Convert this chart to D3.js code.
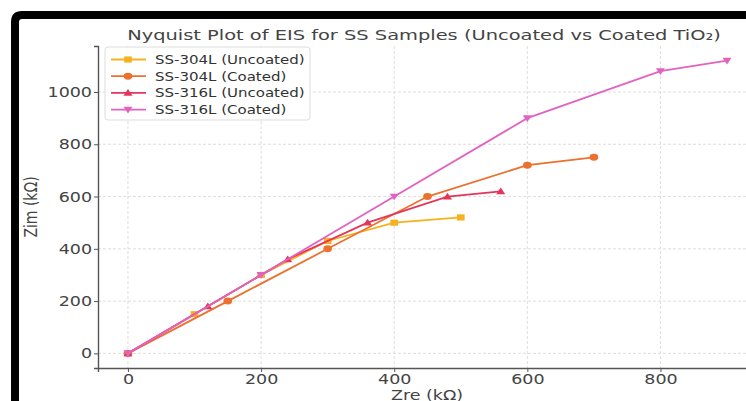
<!DOCTYPE html>
<html>
<head>
<meta charset="utf-8">
<script src="https://cdn.jsdelivr.net/npm/d3@7"></script>
<style>
body { margin: 0; background: #fff; }
svg { display: block; font-family: "DejaVu Sans", sans-serif; }
</style>
</head>
<body>
<script>
// data (kOhm)
var names = ["SS-304L (Uncoated)", "SS-304L (Coated)", "SS-316L (Uncoated)", "SS-316L (Coated)"];
var colors = ["#f7b11e", "#ec712e", "#e4355a", "#e262c2"];
var symbols = [d3.symbolSquare, d3.symbolCircle, "up", "down"];
var zre304u = [0, 100, 200, 300, 400, 500];
var zim304u = [0, 150, 300, 430, 500, 520];
var zre304c = [0, 150, 300, 450, 600, 700];
var zim304c = [0, 200, 400, 600, 720, 750];
var zre316u = [0, 120, 240, 360, 480, 560];
var zim316u = [0, 180, 360, 500, 600, 620];
var zre316c = [0, 200, 400, 600, 800, 900];
var zim316c = [0, 300, 600, 900, 1080, 1120];
var xTicks = [0, 200, 400, 600, 800];
var yTicks = [0, 200, 400, 600, 800, 1000];

var series = [[zre304u, zim304u], [zre304c, zim304c], [zre316u, zim316u], [zre316c, zim316c]].map(function (s, i) {
	return { name: names[i], color: colors[i], sym: symbols[i], pts: s[0].map(function (v, j) { return [v, s[1][j]]; }) };
});

var W = 746, H = 401;
var pL = 98, pR = 757, pT = 46, pB = 368;
var sx = 1.25; // the picture is stretched sideways

var svg = d3.select("body").append("svg")
	.attr("width", W)
	.attr("height", H);

var x = d3.scaleLinear().domain([-45, 945]).range([pL, pR]);
var y = d3.scaleLinear().domain([-56, 1176]).range([pB, pT]);

// grid
var grid = svg.append("g");
grid.selectAll(".gx").data(xTicks).enter().append("line")
	.attr("x1", function (d) { return x(d); }).attr("x2", function (d) { return x(d); })
	.attr("y1", pT).attr("y2", pB)
	.attr("stroke", "#d6d6d6").attr("stroke-width", 0.8).attr("stroke-dasharray", "3,2");
grid.selectAll(".gy").data(yTicks).enter().append("line")
	.attr("y1", function (d) { return y(d); }).attr("y2", function (d) { return y(d); })
	.attr("x1", pL).attr("x2", pR)
	.attr("stroke", "#d6d6d6").attr("stroke-width", 0.8).attr("stroke-dasharray", "3,2");

// axes
var xAxis = svg.append("g")
	.attr("transform", "translate(0," + pB + ")")
	.call(d3.axisBottom(x).tickValues(xTicks).tickFormat(d3.format("d")).tickSize(4).tickPadding(2));
var yAxis = svg.append("g")
	.attr("transform", "translate(" + pL + ",0)")
	.call(d3.axisLeft(y).tickValues(yTicks).tickFormat(d3.format("d")).tickSize(4).tickPadding(2));
[xAxis, yAxis].forEach(function (a) {
	a.select(".domain").attr("stroke", "#555").attr("stroke-width", 1.4);
	a.selectAll(".tick line").attr("stroke", "#555").attr("stroke-width", 1);
	a.selectAll(".tick text").attr("fill", "#444").style("font-size", "14px").style("font-family", "DejaVu Sans");
});
xAxis.selectAll(".tick text").attr("transform", "scale(" + sx + ",1)").attr("x", 0);
yAxis.selectAll(".tick text").attr("transform", "scale(" + sx + ",1)").attr("x", -6 / sx);

function symPath(s, size) {
	if (s === "up" || s === "down") {
		var r = Math.sqrt(size) * 0.62;
		return "M0," + (-r) + "L" + (r * 0.95) + "," + (r * 0.75) + "L" + (-r * 0.95) + "," + (r * 0.75) + "Z";
	}
	return d3.symbol().type(s).size(size)();
}

var line = d3.line().x(function (d) { return x(d[0]); }).y(function (d) { return y(d[1]); });

series.forEach(function (s) {
	svg.append("path")
		.attr("d", line(s.pts))
		.attr("fill", "none")
		.attr("stroke", s.color)
		.attr("stroke-width", 1.8);
	svg.selectAll(null).data(s.pts).enter().append("path")
		.attr("d", symPath(s.sym, 38))
		.attr("transform", function (d) {
			return "translate(" + x(d[0]) + "," + y(d[1]) + ")scale(" + sx + ",1)" + (s.sym === "down" ? "rotate(180)" : "");
		})
		.attr("fill", s.color);
});

// title and labels
svg.append("text")
	.attr("transform", "translate(424,40)scale(1.34,1)")
	.attr("text-anchor", "middle")
	.attr("fill", "#444")
	.style("font-size", "14.5px")
	.text("Nyquist Plot of EIS for SS Samples (Uncoated vs Coated TiO\u2082)");
svg.append("text")
	.attr("transform", "translate(427,400)scale(" + sx + ",1)")
	.attr("text-anchor", "middle")
	.attr("fill", "#444")
	.style("font-size", "14px")
	.text("Zre (k\u03a9)");
svg.append("text")
	.attr("transform", "translate(37,207)scale(" + sx + ",1)rotate(-90)")
	.attr("text-anchor", "middle")
	.attr("fill", "#444")
	.style("font-size", "14px")
	.text("Zim (k\u03a9)");

// legend
var lg = svg.append("g").attr("transform", "translate(105,47)");
lg.append("rect")
	.attr("width", 205).attr("height", 73).attr("rx", 3)
	.attr("fill", "#fff").attr("fill-opacity", 0.85)
	.attr("stroke", "#ddd");
series.forEach(function (s, i) {
	var yy = 12.5 + i * 16.7;
	lg.append("line").attr("x1", 6).attr("x2", 41).attr("y1", yy).attr("y2", yy)
		.attr("stroke", s.color).attr("stroke-width", 1.8);
	lg.append("path").attr("d", symPath(s.sym, 38))
		.attr("transform", "translate(23," + yy + ")scale(" + sx + ",1)" + (s.sym === "down" ? "rotate(180)" : ""))
		.attr("fill", s.color);
	lg.append("text")
		.attr("transform", "translate(50," + (yy + 4.5) + ")scale(" + sx + ",1)")
		.attr("fill", "#333")
		.style("font-size", "12px")
		.text(s.name);
});

// black frame (top and left edge)
svg.append("path")
	.attr("d", "M15," + (H + 5) + "L15,22Q15,15 22,15L" + (W + 5) + ",15")
	.attr("fill", "none")
	.attr("stroke", "#000")
	.attr("stroke-width", 8);
</script>
</body>
</html>
